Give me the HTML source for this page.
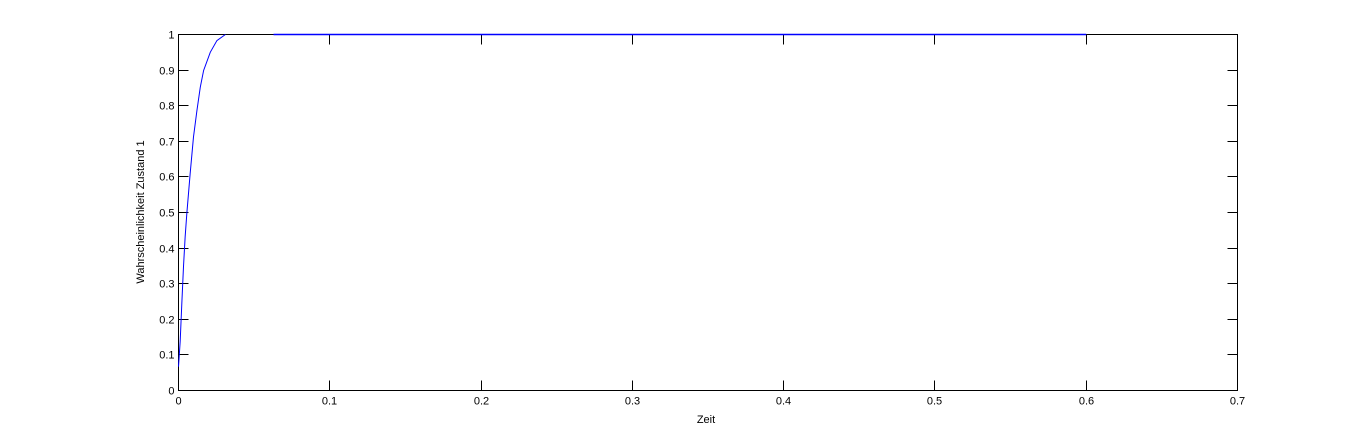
<!DOCTYPE html>
<html><head><meta charset="utf-8"><style>
body{margin:0;background:#fff;}
svg{display:block;font-family:"Liberation Sans",Arial,sans-serif;font-size:11px;}
</style></head><body>
<svg id="chart" width="1367" height="439" xmlns="http://www.w3.org/2000/svg">
<rect width="1367" height="439" fill="#fff"/>
<g id="axes" shape-rendering="crispEdges"></g>
<g id="series"></g>
<text x="706" y="423" text-anchor="middle">Zeit</text>
<text transform="translate(144,212) rotate(-90)" text-anchor="middle">Wahrscheinlichkeit Zustand 1</text>
</svg>
<script>
const xTicks=[0,0.1,0.2,0.3,0.4,0.5,0.6,0.7];
const yTicks=[0,0.1,0.2,0.3,0.4,0.5,0.6,0.7,0.8,0.9,1];
const curveT=[0,0.0011,0.0022,0.0033,0.0044,0.0055,0.0077,0.0099,0.0122,0.0144,0.0166,0.021,0.0254,0.031];
const curveV=[0.067,0.137,0.245,0.348,0.432,0.497,0.609,0.712,0.787,0.852,0.899,0.950,0.983,1.0];
const flatT=[0.0628,0.6];
const flatV=[1,1];
const L=178.5,R=1237.5,T=34.5,B=390.5;
const xs=v=>L+(v-0)/0.7*(R-L);
const ys=v=>B-v*(B-T);
const NS="http://www.w3.org/2000/svg";
const ax=document.getElementById('axes'),se=document.getElementById('series');
function mk(t,a,p){const e=document.createElementNS(NS,t);for(const k in a)e.setAttribute(k,a[k]);p.appendChild(e);return e;}
const box=mk('rect',{x:L,y:T,width:R-L,height:B-T,fill:'none',stroke:'#000','stroke-width':1},ax);


xTicks.forEach(v=>{const x=Math.round(xs(v)-0.5)+0.5;
mk('line',{x1:x,y1:B,x2:x,y2:B-10,stroke:'#000'},ax);
mk('line',{x1:x,y1:T,x2:x,y2:T+10,stroke:'#000'},ax);
const t=mk('text',{x:x,y:B+14,'text-anchor':'middle'},ax);t.textContent=String(v);

});
yTicks.forEach(v=>{const y=Math.round(ys(v)-0.5)+0.5;
mk('line',{x1:L,y1:y,x2:L+10,y2:y,stroke:'#000'},ax);
mk('line',{x1:R,y1:y,x2:R-10,y2:y,stroke:'#000'},ax);
const t=mk('text',{x:L-4,y:y+4,'text-anchor':'end'},ax);t.textContent=String(v);

});
const c=mk('polyline',{points:curveT.map((t,i)=>xs(t)+','+ys(curveV[i])).join(' '),fill:'none',stroke:'#0000ff','stroke-width':1},se);


const f=mk('polyline',{points:flatT.map((t,i)=>xs(t)+','+ys(flatV[i])).join(' '),fill:'none',stroke:'#0000ff','stroke-width':1.5},se);


</script>
</body></html>
